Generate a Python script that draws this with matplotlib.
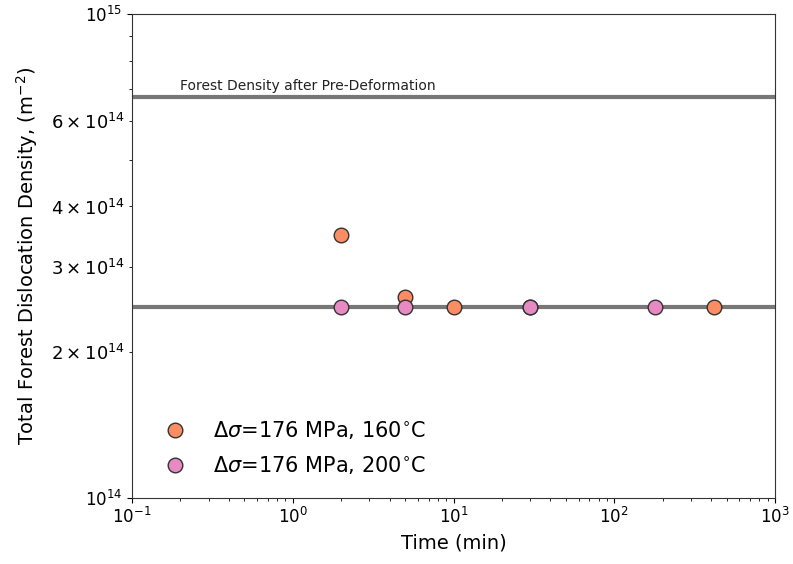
import matplotlib
matplotlib.use("Agg")
import matplotlib.pyplot as plt
import numpy as np

t_160 = [2, 5, 10, 30, 420]
rho_160 = [3.49e14, 2.60e14, 2.48e14, 2.48e14, 2.48e14]
t_200 = [2, 5, 30, 180]
rho_200 = [2.48e14, 2.48e14, 2.48e14, 2.48e14]
pre_def = 6.74e14
steady = 2.48e14
label_160 = r'$\Delta\sigma$=176 MPa, 160$^{\circ}$C'
label_200 = r'$\Delta\sigma$=176 MPa, 200$^{\circ}$C'

fig = plt.figure(figsize=(7.93, 5.64), dpi=100)
ax = fig.add_axes([0.1665, 0.1176, 0.8108, 0.8576])
ax.set_xscale('log')
ax.set_yscale('log')
ax.set_xlim(0.1, 1000)
ax.set_ylim(1e14, 1e15)

ax.axhline(pre_def, color='#777777', lw=3, zorder=1)
ax.axhline(steady, color='#777777', lw=3, zorder=1)
ax.text(0.2, pre_def * 1.035, 'Forest Density after Pre-Deformation', fontsize=10, color='#222222')

ax.plot(t_160, rho_160, 'o', ms=10.5, mfc='#fc8d62', mec='#333333', mew=1, label=label_160, zorder=3)
ax.plot(t_200, rho_200, 'o', ms=10.5, mfc='#e78ac3', mec='#333333', mew=1, label=label_200, zorder=4)

ax.set_xlabel('Time (min)', fontsize=14)
ax.set_ylabel(r'Total Forest Dislocation Density, (m$^{-2}$)', fontsize=14, labelpad=8)
ax.tick_params(which='major', labelsize=12)
ax.tick_params(which='minor', labelsize=13)
for s in ax.spines.values():
    s.set_color('#333333')
ax.legend(loc='lower left', frameon=False, fontsize=15, bbox_to_anchor=(0.022, 0.028),
          borderaxespad=0, handletextpad=0.8, labelspacing=0.6)
fig.savefig('out.png', dpi=100)
